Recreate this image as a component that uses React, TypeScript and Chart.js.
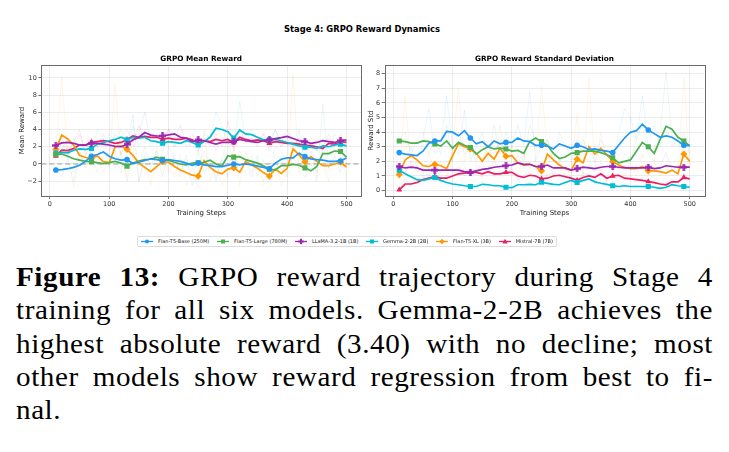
import React, { useEffect, useRef } from "react";
import { Chart, registerables } from "chart.js";
Chart.register(...registerables);

// ---------- data ----------
const steps = [10, 20, 30, 40, 50, 60, 70, 80, 90, 100, 110, 120, 130, 140, 150, 160, 170, 180, 190, 200, 210, 220, 230, 240, 250, 260, 270, 280, 290, 300, 310, 320, 330, 340, 350, 360, 370, 380, 390, 400, 410, 420, 430, 440, 450, 460, 470, 480, 490, 500];

const modelNames = ["Flan-T5-Base (250M)", "Flan-T5-Large (780M)", "LLaMA-3.2-1B (1B)", "Gemma-2-2B (2B)", "Flan-T5-XL (3B)", "Mistral-7B (7B)"];
const modelColors = ["#2196F3", "#4CAF50", "#9C27B0", "#00BCD4", "#FF9800", "#E91E63"];
const modelMarkers = ["circle", "square", "plus", "square", "diamond", "triangle"];

// smoothed mean reward
const baseMean = [-0.7, -0.65, -0.55, -0.4, -0.15, 0.3, 0.9, 1.1, 1.4, 0.9, 0.6, 0.45, 0.5, 0.05, 0.2, 0.4, 0.6, 0.5, 0.4, 0.5, 0.4, 0.3, 0.1, -0.15, 0.1, -0.1, -0.2, -0.3, -0.3, -0.15, 0.0, -0.1, 0.0, -0.1, -0.25, -0.4, -0.55, 0.1, 0.55, 0.7, 0.7, 1.25, 0.85, 0.6, 0.5, 0.45, 0.3, 0.3, 0.35, 0.7];
const largeMean = [1.1, 1.15, 0.9, 0.6, 0.45, 0.3, 0.27, 0.15, 0.05, 0.15, 0.3, 0.1, -0.25, 0.1, 0.35, 0.5, 0.55, 0.8, 0.55, 0.4, 0.2, 0.0, -0.1, 0.1, 0.15, 0.2, 0.45, 0.0, -0.25, 0.95, 0.8, 0.85, 0.5, 0.3, 0.1, -0.2, -0.6, -0.7, -0.2, -0.2, -0.05, -0.15, -0.45, -0.8, -0.3, 1.2, 1.2, 1.5, 1.45, 0.8];
const llamaMean = [2.15, 2.45, 2.5, 2.4, 2.2, 2.2, 2.4, 2.4, 2.3, 2.2, 2.05, 2.0, 2.3, 2.8, 3.1, 3.65, 3.35, 3.25, 3.25, 3.37, 3.5, 3.1, 3.0, 2.6, 2.8, 2.7, 2.5, 2.3, 2.5, 2.5, 2.6, 2.85, 2.7, 2.6, 2.5, 2.7, 2.8, 2.95, 3.06, 3.2, 2.95, 2.7, 2.6, 2.4, 2.5, 2.7, 2.6, 2.5, 2.7, 2.8];
const gemmaMean = [1.25, 1.35, 1.3, 1.6, 1.75, 1.7, 1.8, 2.3, 2.5, 2.7, 2.85, 3.1, 2.8, 3.1, 3.0, 3.1, 2.7, 2.6, 2.4, 2.6, 2.5, 2.4, 2.7, 2.5, 2.2, 2.6, 3.1, 4.15, 4.0, 3.75, 3.0, 3.95, 3.5, 3.4, 3.1, 2.8, 2.8, 2.85, 2.7, 2.5, 2.3, 2.1, 1.95, 1.95, 1.8, 2.1, 2.0, 2.2, 2.3, 2.1];
const xlMean = [1.7, 3.35, 2.9, 2.2, 1.0, 0.75, 0.65, 0.93, 0.27, 0.15, 2.0, 2.1, 1.7, 1.0, 0.1, -0.4, -0.9, -0.3, 0.27, 0.2, -0.3, -0.7, -1.0, -1.3, -1.4, 0.4, -0.4, -0.9, -1.15, -0.6, -0.45, -0.95, 0.27, -0.1, -0.5, -1.0, -1.4, -0.6, -1.1, -0.5, 1.75, 1.05, 0.25, 0.85, 0.3, -0.2, -0.2, 0.0, 0.2, -0.35];
const mistralMean = [0.93, 1.6, 1.55, 1.8, 2.2, 2.2, 2.5, 2.6, 2.7, 2.6, 2.4, 2.5, 2.85, 3.25, 3.1, 3.2, 3.1, 3.1, 2.85, 3.0, 2.85, 2.85, 3.0, 2.8, 2.4, 2.7, 2.6, 2.85, 2.7, 2.85, 2.5, 3.1, 2.85, 2.7, 2.8, 2.7, 2.4, 2.6, 2.5, 2.4, 2.4, 2.3, 2.2, 2.1, 2.0, 1.8, 2.4, 2.3, 2.6, 2.5];

// raw (faint) mean reward
const baseMeanRaw = [-0.7, -1.5, 0.5, -2.0, 1.0, 0.5, 1.5, 0.0, 3.0, -0.5, 1.5, -1.0, 2.0, 5.7, -2.0, 1.0, 0.0, 1.5, -1.5, 2.0, 0.5, -1.0, 1.0, -2.5, 1.5, -1.0, 0.5, -2.0, 0.5, -1.5, 1.0, -1.0, 0.5, -1.5, 1.0, -2.0, -1.0, 2.0, 1.5, 0.0, 1.0, 4.0, -0.5, 1.5, -1.0, 2.0, -0.5, 1.0, -1.0, 2.0];
const largeMeanRaw = [1.1, 0.5, 2.0, -1.0, 1.5, -0.5, 1.0, -1.0, 0.5, 1.0, -0.5, 1.5, -2.0, 1.0, 0.0, 2.0, -0.5, 1.5, 0.5, -1.0, 1.0, -1.5, 0.5, 0.0, -0.5, 1.5, 0.0, -1.5, 0.5, 3.0, -0.5, 1.5, 0.0, 1.0, -1.5, 0.5, -2.0, -0.5, 0.5, -1.5, 1.0, -0.5, -1.5, 0.0, -2.0, 7.0, -0.5, 2.5, 1.0, 0.0];
const llamaMeanRaw = [2.2, 3.0, 1.5, 2.5, 4.0, 1.0, 3.0, 2.0, 2.5, 1.5, 3.5, 1.0, 3.0, 2.0, 3.5, 6.0, 2.5, 3.5, 2.5, 4.0, 3.0, 4.5, 2.0, 2.5, 3.0, 2.0, 3.5, 1.5, 3.0, 2.5, 2.0, 4.0, 2.5, 3.0, 2.0, 3.5, 2.5, 4.0, 2.5, 4.0, 2.0, 3.0, 2.0, 3.0, 2.5, 2.0, 3.5, 2.0, 3.0, 2.5];
const gemmaMeanRaw = [1.2, 2.0, 0.5, 3.0, 1.5, 2.5, 1.0, 4.0, 2.0, 3.5, 2.5, 4.0, 1.5, 4.5, 2.0, 3.5, 2.0, 3.0, 1.5, 3.5, 2.0, 3.0, 2.5, 2.0, 1.5, 3.5, 3.0, 6.0, 4.5, 2.5, 2.0, 7.3, 2.5, 4.0, 2.5, 3.0, 2.0, 4.0, 2.0, 3.0, 1.5, 2.5, 1.0, 2.5, 1.5, 3.0, 1.0, 3.5, 2.0, 2.0];
const xlMeanRaw = [1.7, 10.0, 1.0, -2.8, 0.5, 1.5, 0.2, 2.0, -1.0, 0.5, 9.3, 0.5, -1.5, 3.0, -2.0, 0.5, -2.5, 2.0, 1.0, -0.5, -1.5, 1.0, -2.5, -0.5, -2.8, 4.0, -2.0, 0.5, -2.5, -1.0, 2.0, -2.5, 1.5, -1.0, 0.5, -2.5, -1.5, 1.0, -2.5, -1.0, 10.5, -1.0, 0.5, 2.5, -1.5, 0.5, -2.0, 1.0, 2.5, -2.0];
const mistralMeanRaw = [0.9, 2.5, 1.0, 2.0, 3.5, 1.5, 3.0, 2.0, 3.5, 2.0, 1.5, 3.0, 4.0, 2.5, 4.5, 2.5, 3.5, 2.5, 3.0, 4.0, 2.0, 3.5, 2.5, 3.5, 1.5, 3.0, 2.0, 3.5, 2.0, 5.0, 1.5, 4.0, 2.5, 3.0, 2.5, 3.5, 1.5, 3.0, 2.0, 3.0, 2.0, 3.0, 1.5, 2.5, 1.5, 2.0, 3.0, 2.0, 3.5, 2.0];

// smoothed reward std
const baseStd = [2.6, 2.5, 2.45, 2.4, 2.7, 3.25, 3.4, 3.4, 4.05, 4.0, 3.75, 4.1, 3.6, 3.2, 3.35, 3.0, 3.4, 3.2, 3.3, 3.3, 3.6, 3.4, 3.35, 3.1, 3.1, 3.05, 2.85, 3.2, 3.05, 2.9, 3.1, 3.0, 2.8, 2.85, 2.75, 2.7, 2.6, 3.1, 3.6, 4.0, 4.1, 4.55, 4.15, 3.9, 3.65, 3.75, 3.65, 3.4, 3.1, 3.1];
const largeStd = [3.4, 3.35, 3.25, 3.25, 3.4, 3.35, 3.2, 3.05, 3.4, 2.9, 3.3, 3.1, 2.95, 2.5, 2.8, 3.0, 2.85, 2.9, 2.85, 2.7, 2.75, 2.55, 3.35, 3.6, 3.35, 3.1, 2.55, 2.2, 2.3, 2.55, 2.6, 2.7, 2.7, 2.7, 2.6, 2.45, 2.25, 1.9, 2.0, 2.1, 2.7, 3.3, 3.0, 2.55, 3.5, 4.4, 4.2, 3.65, 3.4, 3.05];
const llamaStd = [1.65, 1.55, 1.6, 1.55, 1.4, 1.4, 1.4, 1.4, 1.4, 1.4, 1.4, 1.3, 1.25, 1.35, 1.45, 1.5, 1.6, 1.65, 1.7, 1.75, 1.9, 1.8, 1.8, 1.65, 1.65, 1.75, 1.55, 1.55, 1.55, 1.4, 1.5, 1.6, 1.55, 1.5, 1.6, 1.65, 1.65, 1.6, 1.55, 1.55, 1.55, 1.55, 1.6, 1.5, 1.55, 1.7, 1.65, 1.6, 1.6, 1.6];
const gemmaStd = [1.4, 1.15, 0.95, 0.75, 0.7, 0.8, 0.9, 0.7, 0.55, 0.45, 0.4, 0.33, 0.28, 0.28, 0.43, 0.4, 0.33, 0.33, 0.23, 0.2, 0.4, 0.4, 0.43, 0.4, 0.57, 0.5, 0.43, 0.4, 0.55, 0.7, 0.55, 0.7, 0.8, 0.6, 0.5, 0.43, 0.33, 0.28, 0.33, 0.28, 0.28, 0.28, 0.28, 0.23, 0.15, 0.23, 0.4, 0.33, 0.28, 0.23];
const xlStd = [1.1, 2.1, 2.4, 2.1, 1.7, 1.65, 1.8, 1.7, 1.5, 2.4, 3.2, 3.0, 2.85, 2.55, 2.0, 2.55, 2.15, 2.9, 2.35, 2.4, 1.9, 1.75, 1.8, 1.65, 1.35, 2.5, 2.1, 1.75, 1.5, 1.4, 2.15, 1.9, 3.0, 2.5, 2.9, 2.45, 2.0, 1.75, 1.6, 1.5, 1.5, 1.65, 1.35, 1.35, 1.3, 1.2, 1.4, 1.15, 2.5, 2.0];
const mistralStd = [0.05, 0.45, 0.45, 0.55, 0.75, 0.85, 0.95, 0.85, 0.85, 1.0, 1.15, 1.2, 1.25, 1.25, 1.15, 1.3, 1.15, 1.15, 1.25, 1.25, 1.0, 0.9, 1.05, 1.0, 0.8, 0.85, 1.0, 1.05, 0.95, 0.85, 0.7, 0.9, 1.0, 0.9, 1.15, 0.85, 1.0, 1.05, 0.85, 0.8, 0.75, 0.7, 0.62, 0.55, 0.45, 0.4, 0.6, 0.6, 0.9, 0.8];

// raw (faint) reward std
const baseStdRaw = [2.6, 2.0, 3.0, 1.5, 3.5, 5.6, 2.5, 3.0, 6.5, 3.0, 2.5, 5.5, 2.0, 3.0, 4.0, 2.0, 4.5, 2.5, 4.0, 3.0, 4.5, 3.0, 6.8, 2.0, 3.0, 3.5, 2.0, 4.0, 3.0, 2.5, 3.5, 2.5, 3.0, 2.0, 3.5, 2.5, 2.0, 4.0, 5.6, 5.0, 3.5, 6.5, 3.0, 4.5, 3.0, 4.5, 3.0, 3.5, 2.5, 3.5];
const largeStdRaw = [3.4, 4.0, 2.5, 3.5, 4.0, 2.5, 3.5, 2.5, 4.5, 2.0, 4.0, 2.5, 3.0, 2.0, 3.5, 3.0, 2.5, 3.5, 2.5, 3.0, 2.5, 2.0, 4.5, 3.5, 3.0, 3.5, 2.0, 2.0, 2.5, 3.0, 2.0, 3.5, 2.5, 3.0, 2.0, 2.5, 2.0, 1.5, 2.5, 2.0, 3.5, 4.5, 2.5, 2.0, 4.0, 8.1, 3.5, 3.0, 4.0, 2.5];
const llamaStdRaw = [1.65, 1.2, 2.0, 1.3, 1.6, 1.0, 1.8, 1.2, 1.6, 1.2, 1.7, 1.0, 1.5, 1.3, 1.8, 1.4, 2.0, 1.5, 2.0, 1.6, 2.4, 1.5, 2.0, 1.4, 1.9, 1.6, 1.3, 1.8, 1.4, 1.2, 1.8, 1.5, 1.7, 1.3, 1.9, 1.5, 1.8, 1.4, 1.7, 1.4, 1.7, 1.4, 1.8, 1.3, 1.6, 2.6, 1.4, 1.7, 1.5, 1.7];
const gemmaStdRaw = [1.4, 0.8, 1.0, 0.5, 0.9, 1.2, 0.6, 0.8, 0.3, 0.6, 0.2, 0.5, 0.2, 0.4, 0.6, 0.2, 0.5, 0.2, 0.3, 0.1, 0.7, 0.2, 0.6, 0.3, 0.9, 0.3, 0.5, 0.3, 0.8, 0.9, 0.3, 1.0, 0.9, 0.4, 0.6, 0.3, 0.4, 0.2, 0.5, 0.2, 0.4, 0.2, 0.3, 0.2, 0.1, 0.4, 0.6, 0.2, 0.4, 0.1];
const xlStdRaw = [1.1, 6.4, 1.5, 2.0, 1.0, 2.5, 1.5, 2.0, 1.0, 3.0, 7.0, 2.0, 3.5, 1.5, 2.0, 3.5, 1.0, 4.5, 1.5, 3.0, 1.0, 2.5, 1.5, 2.0, 7.1, 2.5, 1.0, 2.0, 1.0, 1.5, 5.2, 1.0, 7.8, 1.5, 4.0, 2.0, 1.5, 2.5, 1.0, 2.0, 1.0, 2.5, 1.0, 2.0, 1.0, 1.5, 1.0, 1.5, 7.7, 1.0];
const mistralStdRaw = [0.05, 0.8, 0.3, 0.7, 1.0, 0.6, 1.3, 0.5, 1.0, 1.4, 1.1, 1.6, 1.0, 1.5, 0.9, 1.7, 0.9, 1.4, 1.2, 1.5, 0.7, 1.0, 1.3, 0.8, 0.6, 1.1, 1.2, 0.9, 1.1, 0.6, 0.5, 1.2, 1.1, 0.7, 1.5, 0.6, 1.3, 0.9, 0.7, 1.0, 0.6, 0.9, 0.5, 0.7, 0.3, 0.5, 0.8, 0.4, 1.2, 0.6];

const xTickValues = [0, 100, 200, 300, 400, 500];
const meanTickValues = [-2, 0, 2, 4, 6, 8, 10];
const stdTickValues = [0, 1, 2, 3, 4, 5, 6, 7, 8];
const meanReference = 0;

const suptitle = "Stage 4: GRPO Reward Dynamics";
const captionLines = [
  { bold: "Figure 13:", text: " GRPO reward trajectory during Stage 4" },
  { bold: "", text: "training for all six models. Gemma-2-2B achieves the" },
  { bold: "", text: "highest absolute reward (3.40) with no decline; most" },
  { bold: "", text: "other models show reward regression from best to fi-" },
  { bold: "", text: "nal." },
];

// ---------- helpers ----------
const SANS = "'DejaVu Sans', sans-serif";

function hexToRgba(hex: string, a: number): string {
  const n = parseInt(hex.slice(1), 16);
  return `rgba(${(n >> 16) & 255},${(n >> 8) & 255},${n & 255},${a})`;
}

function markerCanvas(kind: string, color: string): HTMLCanvasElement {
  const s = 7;
  const c = document.createElement("canvas");
  c.width = s;
  c.height = s;
  const g = c.getContext("2d")!;
  g.fillStyle = color;
  if (kind === "plus") {
    g.fillRect(2.3, 0, 2.4, s);
    g.fillRect(0, 2.3, s, 2.4);
  }
  return c;
}

function pointStyleFor(kind: string, color: string): any {
  if (kind === "circle") return "circle";
  if (kind === "square") return "rect";
  if (kind === "diamond") return "rectRot";
  if (kind === "triangle") return "triangle";
  return markerCanvas(kind, color);
}
function radiusFor(kind: string): number {
  if (kind === "circle") return 2.8;
  if (kind === "square") return 3.6;
  if (kind === "diamond") return 3.6;
  if (kind === "triangle") return 3.4;
  return 3.5;
}

const framePlugin = {
  id: "frame",
  afterDraw(chart: any) {
    const { ctx, chartArea: a } = chart;
    ctx.save();
    ctx.strokeStyle = "#6b6b6b";
    ctx.lineWidth = 1;
    ctx.strokeRect(Math.round(a.left) + 0.5, Math.round(a.top) + 0.5, Math.round(a.right - a.left), Math.round(a.bottom - a.top));
    ctx.restore();
  },
};

const zeroPlugin = {
  id: "zeroLine",
  beforeDatasetsDraw(chart: any, _args: any, opts: any) {
    if (!opts || opts.value === undefined || opts.value === null) return;
    const { ctx, chartArea: a, scales } = chart;
    const y = scales.y.getPixelForValue(opts.value);
    ctx.save();
    ctx.strokeStyle = "rgba(140,140,140,0.55)";
    ctx.lineWidth = 1.5;
    ctx.setLineDash([5, 3]);
    ctx.beginPath();
    ctx.moveTo(a.left, y);
    ctx.lineTo(a.right, y);
    ctx.stroke();
    ctx.restore();
  },
};

type PanelProps = {
  series: number[][];
  raw: number[][];
  title: string;
  yTitle: string;
  yMin: number;
  yMax: number;
  yTicks: number[];
  refValue: number | null;
  left: number;
  width: number;
  padLeft: number;
  yWidth: number;
  padRight: number;
};

function Panel(p: PanelProps) {
  const ref = useRef<HTMLCanvasElement>(null);
  const top = 50;
  const height = 167;
  useEffect(() => {
    const canvas = ref.current!;
    const rawSets = p.raw.map((vals, i) => ({
      label: modelNames[i] + " raw",
      data: vals.map((v, j) => ({ x: steps[j], y: v })),
      borderColor: hexToRgba(modelColors[i], 0.12),
      backgroundColor: hexToRgba(modelColors[i], 0.12),
      borderWidth: 0.8,
      tension: 0,
      pointRadius: 0,
      pointHoverRadius: 0,
      order: 1,
    }));
    const smoothSets = p.series.map((vals, i) => {
      const kind = modelMarkers[i];
      const color = modelColors[i];
      return {
        label: modelNames[i],
        data: vals.map((v, j) => ({ x: steps[j], y: v })),
        borderColor: color,
        backgroundColor: color,
        borderWidth: 1.7,
        tension: 0,
        pointStyle: pointStyleFor(kind, color),
        pointRadius: (c: any) => (c.dataIndex % 6 === 0 ? radiusFor(kind) : 0),
        pointHoverRadius: 0,
        pointBorderWidth: 0,
        pointBackgroundColor: color,
        pointBorderColor: color,
        order: 0,
      };
    });
    const datasets = [...smoothSets, ...rawSets];
    const tickFont = { family: SANS, size: 6.5 };
    const axisTitleFont = { family: SANS, size: 7 };
    const gridCfg = { color: "rgba(176,176,176,0.3)", tickColor: "#555", tickLength: 3, lineWidth: 0.8 };
    const fmt = (v: any) => {
      const n = Number(v);
      return n < 0 ? "\u2212" + Math.abs(n) : String(n);
    };
    const chart = new Chart(canvas, {
      type: "line",
      data: { datasets } as any,
      options: {
        animation: false,
        responsive: false,
        maintainAspectRatio: false,
        devicePixelRatio: 1,
        events: [],
        layout: { padding: { left: p.padLeft, right: p.padRight, top: 0, bottom: 0 } },
        plugins: {
          legend: { display: false },
          tooltip: { enabled: false },
          title: {
            display: true,
            text: p.title,
            fullSize: false,
            color: "#000",
            font: { family: SANS, size: 7.3, weight: "bold" },
            padding: { top: 4.9, bottom: 1.3 },
          },
          zeroLine: { value: p.refValue },
        } as any,
        scales: {
          x: {
            type: "linear",
            min: -14.5,
            max: 524.5,
            afterBuildTicks: (a: any) => {
              a.ticks = xTickValues.map((v) => ({ value: v }));
            },
            afterFit: (s: any) => {
              s.height = 21;
            },
            ticks: { font: tickFont, color: "#333", padding: 1.5, maxRotation: 0, callback: fmt },
            grid: gridCfg,
            border: { display: false },
            title: { display: true, text: "Training Steps", font: axisTitleFont, color: "#222", padding: 0 },
          },
          y: {
            type: "linear",
            min: p.yMin,
            max: p.yMax,
            afterBuildTicks: (a: any) => {
              a.ticks = p.yTicks.map((v) => ({ value: v }));
            },
            afterFit: (s: any) => {
              s.width = p.yWidth;
            },
            ticks: { font: tickFont, color: "#333", padding: 1.5, callback: fmt },
            grid: gridCfg,
            border: { display: false },
            title: { display: true, text: p.yTitle, font: axisTitleFont, color: "#222", padding: 0 },
          },
        },
      } as any,
      plugins: [framePlugin, zeroPlugin],
    });
    return () => chart.destroy();
  }, []);
  return (
    <canvas
      ref={ref}
      width={p.width}
      height={height}
      style={{ position: "absolute", left: p.left, top, width: p.width, height }}
    />
  );
}

function LegendMarker({ kind, color }: { kind: string; color: string }) {
  let shape: any = null;
  if (kind === "circle") shape = <circle cx={6} cy={3.5} r={2} fill={color} />;
  else if (kind === "square") shape = <rect x={4} y={1.5} width={4} height={4} fill={color} />;
  else if (kind === "plus")
    shape = (
      <g fill={color}>
        <rect x={5} y={0.8} width={2} height={5.4} />
        <rect x={3.3} y={2.5} width={5.4} height={2} />
      </g>
    );
  else if (kind === "diamond") shape = <polygon points="6,0.8 8.7,3.5 6,6.2 3.3,3.5" fill={color} />;
  else if (kind === "triangle") shape = <polygon points="6,0.8 8.6,5.6 3.4,5.6" fill={color} />;
  return (
    <svg width={12} height={7} style={{ display: "block", marginRight: 5 }}>
      <line x1={0} y1={3.5} x2={12} y2={3.5} stroke={color} strokeWidth={1.3} />
      {shape}
    </svg>
  );
}

export default function App() {
  useEffect(() => {
    document.body.style.margin = "0";
    document.body.style.background = "#fff";
  }, []);
  const meanSeries = [baseMean, largeMean, llamaMean, gemmaMean, xlMean, mistralMean];
  const meanRaw = [baseMeanRaw, largeMeanRaw, llamaMeanRaw, gemmaMeanRaw, xlMeanRaw, mistralMeanRaw];
  const stdSeries = [baseStd, largeStd, llamaStd, gemmaStd, xlStd, mistralStd];
  const stdRaw = [baseStdRaw, largeStdRaw, llamaStdRaw, gemmaStdRaw, xlStdRaw, mistralStdRaw];
  const captionFont = "'Liberation Serif', 'Times New Roman', serif";
  const baselines = [286, 319.3, 352.7, 386, 419.3];
  const stretch = 1.1;
  return (
    <div style={{ position: "absolute", left: 0, top: 0, width: 729, height: 452, background: "#fff", overflow: "hidden" }}>
      <div
        style={{
          position: "absolute",
          left: 0,
          top: 23.5,
          width: 724,
          textAlign: "center",
          fontFamily: SANS,
          fontWeight: "bold",
          fontSize: 8.4,
          lineHeight: "11px",
          color: "#000",
        }}
      >
        {suptitle}
      </div>
      <Panel
        series={meanSeries}
        raw={meanRaw}
        title="GRPO Mean Reward"
        yTitle="Mean Reward"
        yMin={-3.72}
        yMax={11.5}
        yTicks={meanTickValues}
        refValue={meanReference}
        left={0}
        width={370}
        padLeft={17.8}
        yWidth={23.5}
        padRight={9}
      />
      <Panel
        series={stdSeries}
        raw={stdRaw}
        title="GRPO Reward Standard Deviation"
        yTitle="Reward Std"
        yMin={-0.37}
        yMax={8.6}
        yTicks={stdTickValues}
        refValue={null}
        left={360}
        width={369}
        padLeft={6.8}
        yWidth={17.9}
        padRight={24.7}
      />
      <div
        style={{
          position: "absolute",
          left: 137,
          top: 235.5,
          width: 420,
          height: 11,
          boxSizing: "border-box",
          border: "1px solid #dcdcdc",
          borderRadius: 2,
          display: "flex",
          alignItems: "center",
          justifyContent: "space-between",
          padding: "0 3px 0 3px",
          fontFamily: SANS,
          fontSize: 5,
          color: "#222",
          whiteSpace: "nowrap",
        }}
      >
        {modelNames.map((n, i) => (
          <div key={n} style={{ display: "flex", alignItems: "center" }}>
            <LegendMarker kind={modelMarkers[i]} color={modelColors[i]} />
            <span>{n}</span>
          </div>
        ))}
      </div>
      {captionLines.map((ln, i) => {
        const last = i === captionLines.length - 1;
        return (
          <div
            key={i}
            style={{
              position: "absolute",
              left: 16,
              width: 697 / stretch,
              top: baselines[i] - 23.9,
              fontFamily: captionFont,
              fontSize: 26.5,
              lineHeight: "30px",
              color: "#000",
              letterSpacing: 0.5,
              transform: `scaleX(${stretch})`,
              transformOrigin: "0 0",
              textAlign: last ? "left" : "justify",
              textAlignLast: last ? "left" : "justify",
              whiteSpace: "nowrap",
            } as any}
          >
            {ln.bold ? <b>{ln.bold}</b> : null}
            {ln.text}
          </div>
        );
      })}
    </div>
  );
}
